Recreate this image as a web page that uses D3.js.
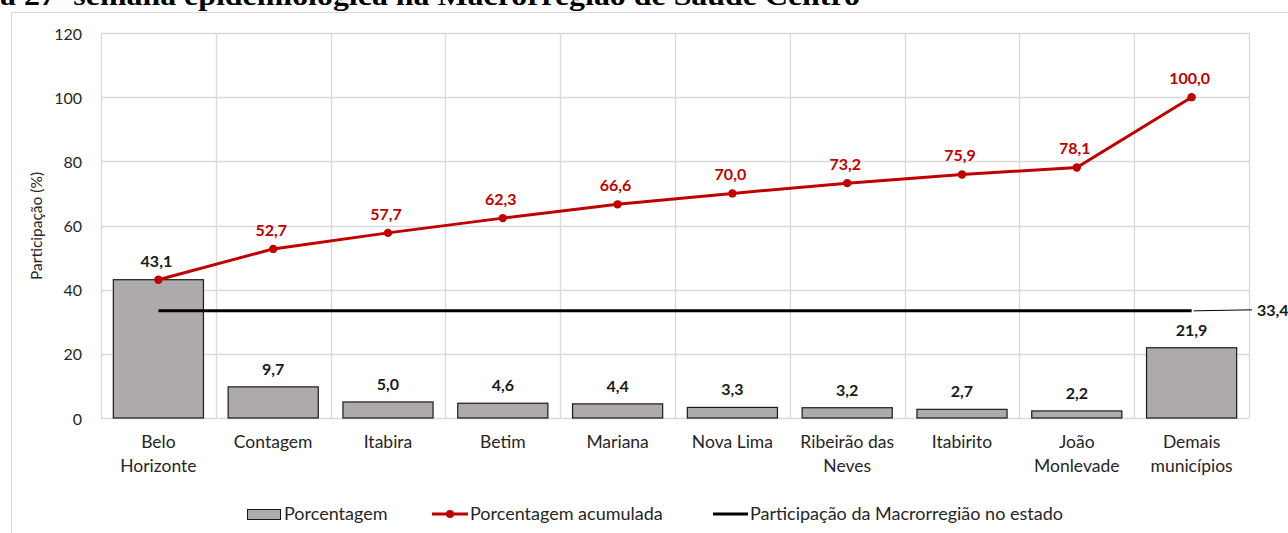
<!DOCTYPE html>
<html><head><meta charset="utf-8">
<script src="https://cdn.jsdelivr.net/npm/d3@7"></script>
<style>body{margin:0;background:#fff}svg{display:block}</style>
</head><body>
<svg id="c" width="1288" height="533"></svg>
<script>
const categories = [["Belo","Horizonte"],["Contagem"],["Itabira"],["Betim"],["Mariana"],["Nova Lima"],["Ribeirão das","Neves"],["Itabirito"],["João","Monlevade"],["Demais","municípios"]];
const percent = [43.1, 9.7, 5.0, 4.6, 4.4, 3.3, 3.2, 2.7, 2.2, 21.9];
const cumulative = [43.1, 52.7, 57.7, 62.3, 66.6, 70.0, 73.2, 75.9, 78.1, 100.0];
const stateShare = 33.4;
const yTicks = [0, 20, 40, 60, 80, 100, 120];
const legendLabels = ["Porcentagem", "Porcentagem acumulada", "Participação da Macrorregião no estado"];
const titleText = "a 27ª semana epidemiológica na Macrorregião de Saúde Centro";

const fmt = v => d3.format(".1f")(v).replace(".", ",");
const font = "Lato, 'Open Sans', sans-serif";
const svg = d3.select("#c");
const M = {l:101, r:1249, t:33, b:418};
const keys = categories.map((c,i)=>i);
const x = d3.scaleBand().domain(keys).range([M.l, M.r]).paddingInner(0.215).paddingOuter(0.1075);
const xs = d3.scaleBand().domain(keys).range([M.l, M.r]);
const y = d3.scaleLinear().domain([0,120]).range([M.b, M.t]);

// title (cut off at the top, as in the source)
svg.append("text").attr("x",0).attr("y",5).attr("font-family","'Liberation Serif', serif")
  .attr("font-weight","bold").attr("font-size",27).attr("fill","#000")
  .attr("textLength",860).attr("lengthAdjust","spacingAndGlyphs").text(titleText);

// outer chart border
svg.append("rect").attr("x",11.5).attr("y",12.5).attr("width",1300).attr("height",600)
  .attr("fill","none").attr("stroke","#d9d9d9");

// gridlines
svg.append("g").selectAll("line").data(yTicks).join("line")
  .attr("x1",M.l).attr("x2",M.r).attr("y1",d=>Math.round(y(d))+0.5).attr("y2",d=>Math.round(y(d))+0.5)
  .attr("stroke","#d9d9d9").attr("stroke-width",1.3);
const vlines = keys.map(k=>xs(k)).concat([M.r]);
svg.append("g").selectAll("line").data(vlines).join("line")
  .attr("x1",d=>Math.round(d)+0.5).attr("x2",d=>Math.round(d)+0.5).attr("y1",M.t).attr("y2",M.b)
  .attr("stroke","#d9d9d9").attr("stroke-width",1.3);

// y axis labels
const yAxis = d3.axisLeft(y).tickValues(yTicks).tickSize(0).tickPadding(0);
const ga = svg.append("g").attr("transform",`translate(82,1)`).call(yAxis);
ga.select(".domain").remove();
ga.selectAll("text").attr("font-family",font).attr("font-size",16).attr("fill","#262626");

svg.append("text").attr("transform","translate(42,226) rotate(-90)").attr("text-anchor","middle")
  .attr("font-family",font).attr("font-size",15.5).attr("fill","#262626").text("Participação (%)");

// bars
svg.append("g").selectAll("rect").data(percent).join("rect")
  .attr("x",(d,i)=>x(i)).attr("width",x.bandwidth()).attr("y",d=>y(d)).attr("height",d=>M.b-y(d))
  .attr("fill","#aeaaaa").attr("stroke","#1a1a1a").attr("stroke-width",1.2);
svg.append("g").selectAll("text").data(percent).join("text")
  .attr("x",(d,i)=>x(i)+x.bandwidth()/2).attr("y",d=>y(d)-12).attr("text-anchor","middle")
  .attr("font-family",font).attr("font-weight","bold").attr("font-size",16).attr("fill","#1a1a1a")
  .text((d,i)=> i===0 ? "" : fmt(d));

// state line
const cx = i => xs(i)+xs.bandwidth()/2;
svg.append("line").attr("x1",cx(0)).attr("x2",cx(keys.length-1)).attr("y1",y(stateShare)).attr("y2",y(stateShare))
  .attr("stroke","#000").attr("stroke-width",3);
svg.append("path").attr("d",`M${cx(keys.length-1)+2},${y(stateShare)} L1252,${y(stateShare)-1}`)
  .attr("stroke","#000").attr("stroke-width",1).attr("fill","none");
svg.append("text").attr("x",1257).attr("y",y(stateShare)+5)
  .attr("font-family",font).attr("font-weight","bold").attr("font-size",16).attr("fill","#1a1a1a").text(fmt(stateShare));

// cumulative line
const line = d3.line().x((d,i)=>cx(i)).y(d=>y(d));
svg.append("path").datum(cumulative).attr("d",line).attr("fill","none").attr("stroke","#c00000").attr("stroke-width",3);
svg.append("g").selectAll("circle").data(cumulative).join("circle")
  .attr("cx",(d,i)=>cx(i)).attr("cy",d=>y(d)).attr("r",4.2).attr("fill","#c00000");
svg.append("g").selectAll("text").data(cumulative).join("text")
  .attr("x",(d,i)=>cx(i)-2).attr("y",d=>y(d)-13).attr("text-anchor","middle")
  .attr("font-family",font).attr("font-weight","bold").attr("font-size",16)
  .attr("fill",(d,i)=> i===0 ? "#1a1a1a" : "#c00000").text(d=>fmt(d));

// category labels
const cg = svg.append("g");
categories.forEach((lines,i)=>{
  lines.forEach((t,j)=>{
    cg.append("text").attr("x",cx(i)).attr("y",448+j*24).attr("text-anchor","middle")
      .attr("font-family",font).attr("font-size",17.5).attr("fill","#262626").text(t);
  });
});

// legend
const ly = 514;
const lg = svg.append("g").attr("font-family",font).attr("font-size",18).attr("fill","#262626");
lg.append("rect").attr("x",247.5).attr("y",509.5).attr("width",33).attr("height",10).attr("fill","#aeaaaa").attr("stroke","#1a1a1a");
lg.append("text").attr("x",284).attr("y",ly+6).text(legendLabels[0]);
lg.append("line").attr("x1",432).attr("x2",468).attr("y1",ly).attr("y2",ly).attr("stroke","#c00000").attr("stroke-width",3);
lg.append("circle").attr("cx",450).attr("cy",ly).attr("r",4).attr("fill","#c00000");
lg.append("text").attr("x",470).attr("y",ly+6).text(legendLabels[1]);
lg.append("line").attr("x1",713).attr("x2",748).attr("y1",ly).attr("y2",ly).attr("stroke","#000").attr("stroke-width",3);
lg.append("text").attr("x",750).attr("y",ly+6).text(legendLabels[2]);
</script>
</body></html>
